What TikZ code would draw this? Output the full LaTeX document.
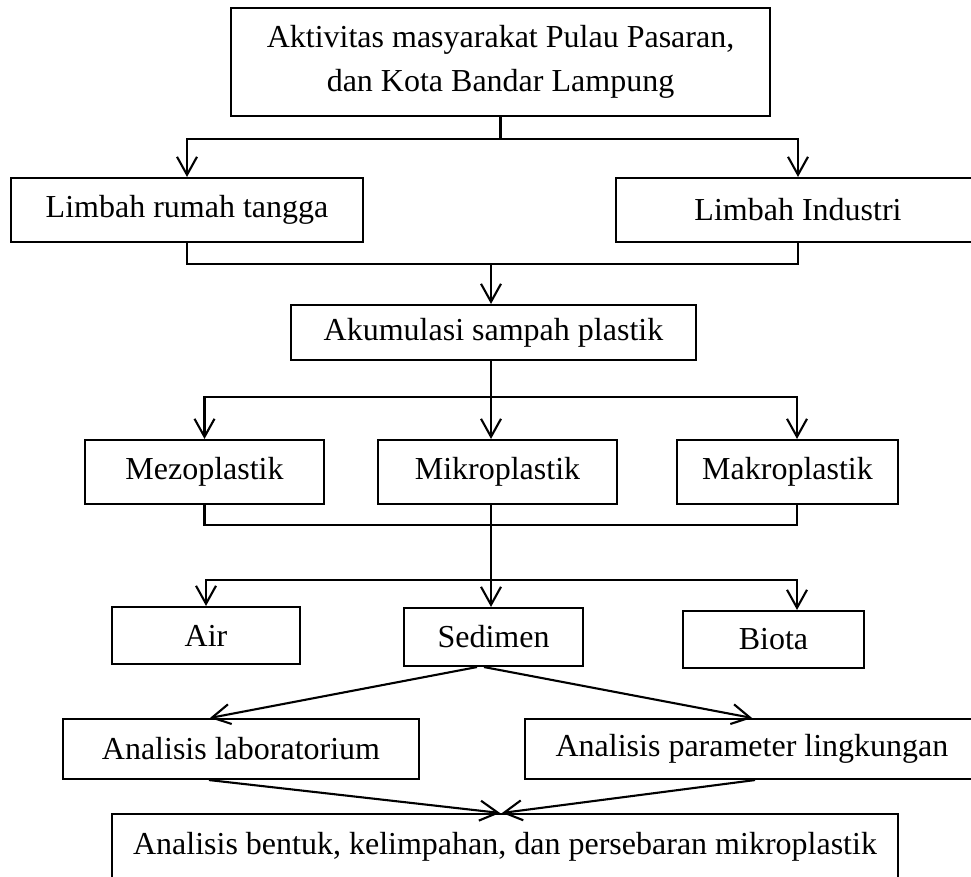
\documentclass[tikz,border=0pt]{standalone}
\usepackage{fontspec}
\setmainfont{Liberation Serif}
\usetikzlibrary{arrows.meta}
\begin{document}
\begin{tikzpicture}[x=1pt,y=-1pt,
 box/.style={draw,line width=2.1pt,inner sep=0pt,align=center,font=\fontsize{32}{44}\selectfont},
 ln/.style={line width=2.1pt},
 thinln/.style={line width=1.2pt},
 arr/.style={ln,-{Straight Barb[length=18pt,width=20pt]}}]
\useasboundingbox (0,0) rectangle (971,877);
\clip (0,0) rectangle (971,877);
\node[box,minimum width=539pt,minimum height=108pt] (top) at (500.5,62) {Aktivitas masyarakat Pulau Pasaran,\\dan Kota Bandar Lampung};
\node[box,minimum width=352pt,minimum height=64pt] (lrt) at (187,210) {Limbah rumah tangga};
\node[box,minimum width=364pt,minimum height=64pt] (li) at (798,210) {Limbah Industri};
\node[box,minimum width=405pt,minimum height=55pt] (akm) at (493.5,332.5) {Akumulasi sampah plastik};
\node[box,minimum width=239pt,minimum height=64pt] (mezo) at (204.5,472) {Mezoplastik};
\node[box,minimum width=239pt,minimum height=64pt] (mikro) at (497.5,472) {Mikroplastik};
\node[box,minimum width=221pt,minimum height=64pt] (makro) at (787.5,472) {Makroplastik};
\node[box,minimum width=188pt,minimum height=57pt] (air) at (206,635.5) {Air};
\node[box,minimum width=179pt,minimum height=58pt] (sed) at (493.5,637) {Sedimen};
\node[box,minimum width=181pt,minimum height=57pt] (biota) at (773.5,639.5) {Biota};
\node[box,minimum width=356pt,minimum height=60pt] (lab) at (241,749) {Analisis laboratorium};
\node[box,minimum width=454pt,minimum height=60pt] (par) at (752,749) {Analisis parameter lingkungan};
\node[box,minimum width=786pt,minimum height=66pt] (res) at (505,847) {Analisis bentuk, kelimpahan, dan persebaran mikroplastik};
% level 1
\coordinate (j1) at (500,139);
\draw[ln] (top.south) -- (top.south |- j1);
\draw[arr] (j1) -| (lrt.north);
\draw[arr] (j1) -| (li.north);
% level 2
\coordinate (j2) at (491,264);
\draw[ln] (lrt.south) |- (j2) -| (li.south);
\draw[arr] (j2) -- (j2 |- akm.north);
% level 3
\coordinate (j3) at (491,397);
\draw[ln] (j3 |- akm.south) -- (j3);
\draw[arr] (j3) -| (mezo.north);
\draw[arr] (j3) -- (j3 |- mikro.north);
\draw[arr] (j3) -| ([xshift=9.5pt]makro.north);
% level 4
\coordinate (j4) at (491,525);
\coordinate (j5) at (491,580);
\draw[ln] (mezo.south) |- (j4);
\draw[ln] ([xshift=9.5pt]makro.south) |- (j4);
\draw[thinln] (j4 |- mikro.south) -- (j5);
\draw[arr] (j5) -| (air.north);
\draw[arr] (j5) -- (j5 |- sed.north);
\draw[arr] (j5) -| ([xshift=23.5pt]biota.north);
% diagonals
\draw[arr] ([xshift=-16.5pt]sed.south) -- ([xshift=-31pt]lab.north);
\draw[arr] ([xshift=-9.5pt]sed.south) -- (par.north);
\draw[arr] ([xshift=-32pt]lab.south) -- ([xshift=-5pt]res.north);
\draw[arr] ([xshift=3pt]par.south) -- ([xshift=-3pt]res.north);
\end{tikzpicture}
\end{document}
